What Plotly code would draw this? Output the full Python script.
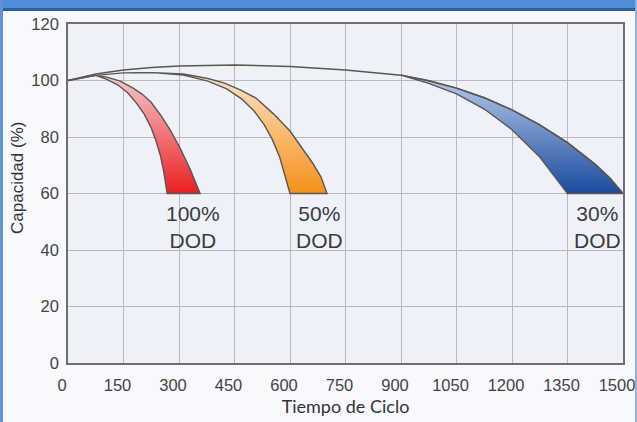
import plotly.graph_objects as go

# Cycle-life curves: capacity (%) versus number of cycles for three depths of discharge
x_ticks = [0, 150, 300, 450, 600, 750, 900, 1050, 1200, 1350, 1500]
y_ticks = [0, 20, 40, 60, 80, 100, 120]

# 30% DOD: long upper envelope and the lower edge of the blue band
dod30_upper_x = [0, 75, 150, 226, 300, 450, 600, 750, 900, 975, 1050, 1125, 1200, 1275, 1350, 1425, 1465, 1500]
dod30_upper_y = [100, 102.3, 103.7, 104.6, 105.1, 105.5, 105.0, 103.7, 101.9, 99.9, 97.3, 93.9, 89.6, 84.3, 78.0, 70.3, 65.4, 60]
dod30_lower_x = [900, 975, 1050, 1125, 1200, 1275, 1350]
dod30_lower_y = [101.9, 99.0, 95.3, 89.9, 82.6, 72.9, 60]

# 50% DOD band
dod50_outer_x = [0, 75, 150, 229, 312, 378, 423, 467, 508, 556, 600, 633, 661, 684, 700]
dod50_outer_y = [100, 101.8, 102.7, 102.8, 102.3, 100.7, 99.1, 96.6, 93.8, 88.1, 82.1, 76.1, 70.8, 65.8, 60]
dod50_inner_x = [0, 75, 150, 229, 312, 378, 429, 469, 503, 531, 553, 572, 586, 600]
dod50_inner_y = [100, 101.8, 102.7, 102.8, 101.9, 99.8, 97.0, 93.5, 89.2, 84.2, 78.9, 72.9, 66.9, 60]

# 100% DOD band
dod100_outer_x = [0, 75, 105, 141, 176, 200, 224, 250, 276, 303, 330, 357]
dod100_outer_y = [100, 101.8, 101.2, 99.8, 97.3, 95.2, 92.4, 87.8, 82.5, 76.1, 68.7, 60]
dod100_inner_x = [0, 75, 105, 135, 162, 185, 206, 224, 238, 250, 259, 268]
dod100_inner_y = [100, 101.8, 100.4, 98.4, 95.6, 92.0, 88.1, 83.5, 78.6, 73.3, 67.6, 60]

labels = ["100%<br>DOD", "50%<br>DOD", "30%<br>DOD"]
label_x = [338, 681, 1431]
label_y = [48, 48, 48]

EDGE = "#5a5656"


def band(outer_x, outer_y, inner_x, inner_y, dark, light):
    """Closed crescent: along the outer edge, across the bottom, back along the inner edge."""
    xs = list(outer_x) + list(reversed(inner_x))
    ys = list(outer_y) + list(reversed(inner_y))
    return go.Scatter(
        x=xs, y=ys, mode="lines", fill="toself",
        fillgradient=dict(type="vertical", colorscale=[[0, dark], [1, light]]),
        line=dict(color=EDGE, width=1.4),
        hoverinfo="skip", showlegend=False,
    )


fig = go.Figure()

# Blue band for 30% DOD (its upper edge is the long envelope curve)
blue_top_x = [x for x in dod30_upper_x if x >= dod30_lower_x[0]]
blue_top_y = dod30_upper_y[-len(blue_top_x):]
fig.add_trace(band(blue_top_x, blue_top_y, dod30_lower_x, dod30_lower_y, "#1b4a9d", "#b9cdee"))
fig.add_trace(go.Scatter(
    x=dod30_upper_x, y=dod30_upper_y, mode="lines",
    line=dict(color=EDGE, width=1.5),
    hoverinfo="skip", showlegend=False,
))

# Orange band for 50% DOD
fig.add_trace(band(dod50_outer_x, dod50_outer_y, dod50_inner_x, dod50_inner_y, "#f5901a", "#fde4c8"))

# Red band for 100% DOD
fig.add_trace(band(dod100_outer_x, dod100_outer_y, dod100_inner_x, dod100_inner_y, "#e91f23", "#f9c8cb"))

for txt, lx, ly in zip(labels, label_x, label_y):
    fig.add_annotation(
        x=lx, y=ly, text=txt, showarrow=False, align="center",
        xanchor="center", yanchor="middle",
        font=dict(family="Liberation Sans, Arial, sans-serif", size=21, color="#3b3b3b"),
    )

# Page frame: blue header strip and thin side borders
W, H = 637, 422
ML, MR, MT, MB = 68, 14, 24, 59
pw, ph = W - ML - MR, H - MT - MB


def px_to_paper_x(px):
    return (px - ML) / pw


def px_to_paper_y(py):
    return (H - MB - py) / ph


frame = [
    (0, 0, W, 9, "#4f8ed6"),
    (0, 8, W, 11, "#2c5f9f"),
    (0, 0, 3, H, "#5f93d2"),
    (W - 2, 0, W, H, "#8fb3e0"),
]
for x0, y0, x1, y1, col in frame:
    fig.add_shape(
        type="rect", xref="paper", yref="paper",
        x0=px_to_paper_x(x0), x1=px_to_paper_x(x1),
        y0=px_to_paper_y(y1), y1=px_to_paper_y(y0),
        fillcolor=col, line=dict(width=0), layer="above",
    )

# Vertical axis title
fig.add_annotation(
    xref="paper", yref="paper", x=px_to_paper_x(17), y=px_to_paper_y(178),
    text="Capacidad (%)", textangle=-90, showarrow=False,
    xanchor="center", yanchor="middle",
    font=dict(family="Liberation Sans, Arial, sans-serif", size=17, color="#333333"),
)

axis_font = dict(family="Liberation Sans, Arial, sans-serif", size=16.5, color="#444444")

fig.update_layout(
    width=W, height=H,
    margin=dict(l=ML, r=MR, t=MT, b=MB, pad=0, autoexpand=False),
    paper_bgcolor="#f8f9fc",
    plot_bgcolor="#eef2f8",
    showlegend=False,
    xaxis=dict(
        range=[0, 1500], tickvals=x_ticks, ticks="", tickfont=axis_font,
        ticklabelstandoff=6, ticklabelshift=-6, ticklabeloverflow="allow",
        automargin=False,
        showgrid=True, gridcolor="#bab8b8", gridwidth=1.2, zeroline=False,
        showline=True, linecolor="#736d6d", linewidth=1.6, mirror=True,
        title=dict(text="Tiempo de Ciclo", standoff=8,
                   font=dict(family="Lato, Open Sans, sans-serif", size=18, color="#333333")),
    ),
    yaxis=dict(
        range=[0, 120], tickvals=y_ticks, ticks="", tickfont=axis_font,
        ticklabelstandoff=4, automargin=False,
        showgrid=True, gridcolor="#bab8b8", gridwidth=1.2, zeroline=False,
        showline=True, linecolor="#736d6d", linewidth=1.6, mirror=True,
    ),
)

fig.write_html("out.html")
